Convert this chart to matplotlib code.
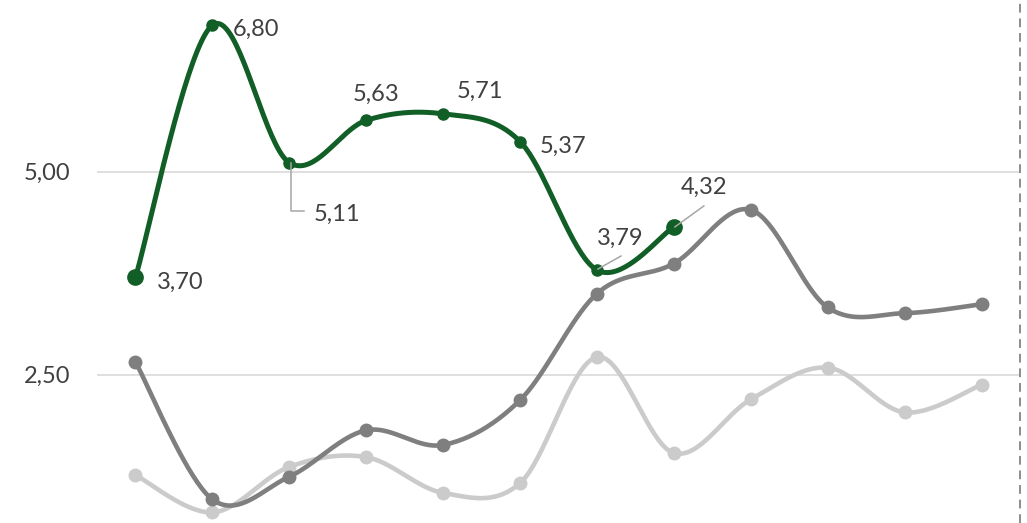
import numpy as np
import matplotlib
matplotlib.use("Agg")
import matplotlib.pyplot as plt
from matplotlib.lines import Line2D

# ---- data ----
categories = list(range(12))
green_vals = [3.70, 6.80, 5.11, 5.63, 5.71, 5.37, 3.79, 4.32]
dark_vals = [2.66, 0.97, 1.25, 1.82, 1.64, 2.19, 3.50, 3.87, 4.53, 3.33, 3.26, 3.37]
light_vals = [1.27, 0.81, 1.37, 1.49, 1.05, 1.17, 2.72, 1.54, 2.20, 2.59, 2.04, 2.38]
green_labels = ["3,70", "6,80", "5,11", "5,63", "5,71", "5,37", "3,79", "4,32"]
ytick_vals = [2.5, 5.0]
ytick_labels = ["2,50", "5,00"]

GREEN = "#125E27"
DARK = "#7F7F7F"
LIGHT = "#CBCBCB"
TXT = "#404040"
LEAD = "#A6A6A6"

plt.rcParams['font.family'] = ['Lato', 'DejaVu Sans']

W, H, DPI = 1027, 523, 100


def smooth(x, y, n=40):
    x = np.asarray(x, float)
    y = np.asarray(y, float)
    P = np.column_stack([x, y])
    out = [P[0]]
    m = len(P)
    for i in range(m - 1):
        p0 = P[i - 1] if i > 0 else P[i]
        p1 = P[i]
        p2 = P[i + 1]
        p3 = P[i + 2] if i + 2 < m else P[i + 1]
        c1 = p1 + (p2 - p0) / 6.0
        c2 = p2 - (p3 - p1) / 6.0
        t = np.linspace(0, 1, n)[1:, None]
        seg = ((1 - t) ** 3) * p1 + 3 * ((1 - t) ** 2) * t * c1 + 3 * (1 - t) * t ** 2 * c2 + t ** 3 * p2
        out.extend(seg)
    out = np.array(out)
    return out[:, 0], out[:, 1]


fig = plt.figure(figsize=(W / DPI, H / DPI), dpi=DPI)
ax = fig.add_axes([97 / W, 0, (1020 - 97) / W, 1])
ax.set_xlim(-0.5, 11.5)
ax.set_ylim(0.68, 7.11)

for v in ytick_vals:
    ax.axhline(v, color="#D9D9D9", lw=1.2, zorder=0)

# light series
xs, ys = smooth(categories, light_vals)
ax.plot(xs, ys, color=LIGHT, lw=3.3, solid_capstyle="round", zorder=2)
ax.plot(categories, light_vals, "o", color=LIGHT, ms=9, zorder=2)
# dark series
xs, ys = smooth(categories, dark_vals)
ax.plot(xs, ys, color=DARK, lw=3.3, solid_capstyle="round", zorder=3)
ax.plot(categories, dark_vals, "o", color=DARK, ms=9, zorder=3)
# green series
gx = categories[:len(green_vals)]
xs, ys = smooth(gx, green_vals)
ax.plot(xs, ys, color=GREEN, lw=3.6, solid_capstyle="round", zorder=4)
ax.plot(gx, green_vals, "o", color=GREEN, ms=8, zorder=4)
ax.plot([gx[0], gx[-1]], [green_vals[0], green_vals[-1]], "o", color=GREEN, ms=11, zorder=5)

fs = 17
PX = 72.0 / DPI  # points per pixel

# label offsets in pixels: (dx to left edge, dy of baseline below point)
lab_off = [(21, 11), (20, 11), (24, 58), (-14, -20), (14, -16), (20, 11), (0, -25), (7, -33)]
for i, (lbl, v) in enumerate(zip(green_labels, green_vals)):
    dx, dy = lab_off[i]
    ax.annotate(lbl, (gx[i], v), xytext=(dx * PX, -dy * PX), textcoords="offset points",
                fontsize=fs, color=TXT, ha="left", va="baseline", zorder=6)


def to_px(x, y):
    X, Y = ax.transData.transform((x, y))
    return X, Y


def leader(pts):
    xs_ = [p[0] for p in pts]
    ys_ = [p[1] for p in pts]
    fig.add_artist(Line2D(xs_, ys_, transform=None, color=LEAD, lw=1.1, zorder=6))


# leader for 5,11
px, py = to_px(gx[2], green_vals[2])
leader([(px + 2, py), (px + 2, py - 48), (px + 15, py - 48)])
# leader for 3,79
px, py = to_px(gx[6], green_vals[6])
leader([(px + 1, py + 1), (px + 24, py + 14)])
# leader for 4,32
px, py = to_px(gx[7], green_vals[7])
leader([(px + 1, py), (px + 30, py + 21)])

# y tick labels (right edge at x=70px)
for v, t in zip(ytick_vals, ytick_labels):
    ax.annotate(t, (-0.5, v), xytext=(-27 * PX, -8 * PX), textcoords="offset points",
                fontsize=fs, color=TXT, ha="right", va="baseline", annotation_clip=False)
ax.set_yticks([])
ax.set_xticks([])
for s in ax.spines.values():
    s.set_visible(False)

# right dashed line
ax.axvline(11.5, color="#8C8C8C", lw=1.4, ls=(0, (4.5, 3)), clip_on=False, zorder=1)

fig.savefig("out.png", dpi=DPI)
